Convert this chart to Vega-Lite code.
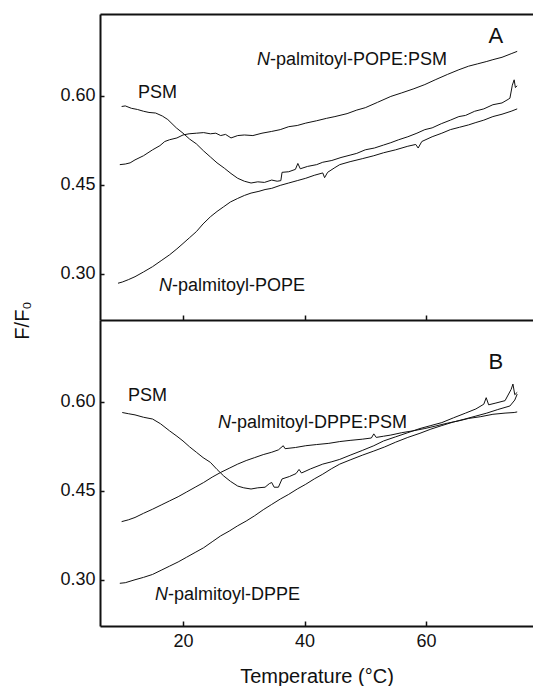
{
  "$schema": "https://vega.github.io/schema/vega-lite/v6.json",
  "padding": {"left": 12, "top": 14, "right": 0, "bottom": 0},
  "background": "white",
  "spacing": 0,
  "bounds": "flush",
  "config": {
    "font": "Liberation Sans",
    "view": {"stroke": null},
    "axis": {
      "domainColor": "#111", "domainWidth": 2, "tickColor": "#111", "tickWidth": 1.5,
      "labelFont": "Liberation Sans", "labelFontSize": 18, "labelColor": "#111",
      "titleFont": "Liberation Sans", "titleFontWeight": "normal", "titleColor": "#111", "grid": false
    }
  },
  "datasets": {
    "curves": [
      {"panel":"A","series":"PSM","t":9.9,"v":0.582},{"panel":"A","series":"PSM","t":10.5,"v":0.583},{"panel":"A","series":"PSM","t":11.5,"v":0.579},{"panel":"A","series":"PSM","t":12.5,"v":0.577},{"panel":"A","series":"PSM","t":13.5,"v":0.574},{"panel":"A","series":"PSM","t":14.4,"v":0.572},{"panel":"A","series":"PSM","t":15.5,"v":0.571},{"panel":"A","series":"PSM","t":16.6,"v":0.566},{"panel":"A","series":"PSM","t":17.5,"v":0.56},{"panel":"A","series":"PSM","t":18.9,"v":0.546},{"panel":"A","series":"PSM","t":20,"v":0.537},{"panel":"A","series":"PSM","t":21.1,"v":0.527},{"panel":"A","series":"PSM","t":22.2,"v":0.519},{"panel":"A","series":"PSM","t":23.4,"v":0.507},{"panel":"A","series":"PSM","t":24.5,"v":0.497},{"panel":"A","series":"PSM","t":25.6,"v":0.487},{"panel":"A","series":"PSM","t":26.8,"v":0.478},{"panel":"A","series":"PSM","t":27.9,"v":0.469},{"panel":"A","series":"PSM","t":29,"v":0.461},{"panel":"A","series":"PSM","t":30.1,"v":0.456},{"panel":"A","series":"PSM","t":31.2,"v":0.453},{"panel":"A","series":"PSM","t":32.3,"v":0.455},{"panel":"A","series":"PSM","t":33.4,"v":0.454},{"panel":"A","series":"PSM","t":34.6,"v":0.458},{"panel":"A","series":"PSM","t":35.5,"v":0.456},{"panel":"A","series":"PSM","t":36.1,"v":0.457},{"panel":"A","series":"PSM","t":36.3,"v":0.471},{"panel":"A","series":"PSM","t":37.4,"v":0.472},{"panel":"A","series":"PSM","t":38.5,"v":0.476},{"panel":"A","series":"PSM","t":38.9,"v":0.486},{"panel":"A","series":"PSM","t":39.3,"v":0.477},{"panel":"A","series":"PSM","t":40.5,"v":0.481},{"panel":"A","series":"PSM","t":42,"v":0.484},{"panel":"A","series":"PSM","t":43,"v":0.488},{"panel":"A","series":"PSM","t":44.5,"v":0.491},{"panel":"A","series":"PSM","t":46,"v":0.496},{"panel":"A","series":"PSM","t":47.5,"v":0.5},{"panel":"A","series":"PSM","t":48.6,"v":0.503},{"panel":"A","series":"PSM","t":50,"v":0.509},{"panel":"A","series":"PSM","t":51.5,"v":0.512},{"panel":"A","series":"PSM","t":53,"v":0.517},{"panel":"A","series":"PSM","t":54.2,"v":0.521},{"panel":"A","series":"PSM","t":55.5,"v":0.526},{"panel":"A","series":"PSM","t":57,"v":0.531},{"panel":"A","series":"PSM","t":58.5,"v":0.537},{"panel":"A","series":"PSM","t":59.8,"v":0.543},{"panel":"A","series":"PSM","t":61,"v":0.546},{"panel":"A","series":"PSM","t":62.5,"v":0.553},{"panel":"A","series":"PSM","t":64,"v":0.559},{"panel":"A","series":"PSM","t":65.4,"v":0.565},{"panel":"A","series":"PSM","t":66.5,"v":0.567},{"panel":"A","series":"PSM","t":68,"v":0.574},{"panel":"A","series":"PSM","t":69.5,"v":0.578},{"panel":"A","series":"PSM","t":71,"v":0.585},{"panel":"A","series":"PSM","t":72.5,"v":0.588},{"panel":"A","series":"PSM","t":73.5,"v":0.594},{"panel":"A","series":"PSM","t":73.8,"v":0.596},{"panel":"A","series":"PSM","t":74.2,"v":0.618},{"panel":"A","series":"PSM","t":74.5,"v":0.627},{"panel":"A","series":"PSM","t":74.7,"v":0.614},{"panel":"A","series":"PSM","t":75,"v":0.617},
      {"panel":"A","series":"POPE","t":9.3,"v":0.284},{"panel":"A","series":"POPE","t":10,"v":0.286},{"panel":"A","series":"POPE","t":11,"v":0.29},{"panel":"A","series":"POPE","t":12.1,"v":0.295},{"panel":"A","series":"POPE","t":13.5,"v":0.303},{"panel":"A","series":"POPE","t":15,"v":0.312},{"panel":"A","series":"POPE","t":16.4,"v":0.322},{"panel":"A","series":"POPE","t":17.8,"v":0.332},{"panel":"A","series":"POPE","t":19,"v":0.342},{"panel":"A","series":"POPE","t":20,"v":0.351},{"panel":"A","series":"POPE","t":21.1,"v":0.361},{"panel":"A","series":"POPE","t":22.2,"v":0.371},{"panel":"A","series":"POPE","t":23.3,"v":0.384},{"panel":"A","series":"POPE","t":24.5,"v":0.396},{"panel":"A","series":"POPE","t":25.6,"v":0.405},{"panel":"A","series":"POPE","t":26.7,"v":0.413},{"panel":"A","series":"POPE","t":27.8,"v":0.421},{"panel":"A","series":"POPE","t":29,"v":0.427},{"panel":"A","series":"POPE","t":30.1,"v":0.432},{"panel":"A","series":"POPE","t":31.2,"v":0.436},{"panel":"A","series":"POPE","t":32.5,"v":0.439},{"panel":"A","series":"POPE","t":33.5,"v":0.442},{"panel":"A","series":"POPE","t":34.6,"v":0.444},{"panel":"A","series":"POPE","t":36,"v":0.449},{"panel":"A","series":"POPE","t":37.4,"v":0.453},{"panel":"A","series":"POPE","t":38.8,"v":0.457},{"panel":"A","series":"POPE","t":40.2,"v":0.461},{"panel":"A","series":"POPE","t":41.6,"v":0.466},{"panel":"A","series":"POPE","t":43,"v":0.47},{"panel":"A","series":"POPE","t":43.3,"v":0.462},{"panel":"A","series":"POPE","t":43.8,"v":0.471},{"panel":"A","series":"POPE","t":45,"v":0.479},{"panel":"A","series":"POPE","t":45.8,"v":0.484},{"panel":"A","series":"POPE","t":47.5,"v":0.489},{"panel":"A","series":"POPE","t":49.5,"v":0.494},{"panel":"A","series":"POPE","t":51.4,"v":0.499},{"panel":"A","series":"POPE","t":53,"v":0.504},{"panel":"A","series":"POPE","t":55,"v":0.509},{"panel":"A","series":"POPE","t":57,"v":0.515},{"panel":"A","series":"POPE","t":58.3,"v":0.518},{"panel":"A","series":"POPE","t":58.7,"v":0.512},{"panel":"A","series":"POPE","t":59.3,"v":0.523},{"panel":"A","series":"POPE","t":61,"v":0.531},{"panel":"A","series":"POPE","t":62.6,"v":0.537},{"panel":"A","series":"POPE","t":64,"v":0.543},{"panel":"A","series":"POPE","t":65.5,"v":0.547},{"panel":"A","series":"POPE","t":67,"v":0.551},{"panel":"A","series":"POPE","t":68.2,"v":0.555},{"panel":"A","series":"POPE","t":69.5,"v":0.559},{"panel":"A","series":"POPE","t":71,"v":0.565},{"panel":"A","series":"POPE","t":72.5,"v":0.569},{"panel":"A","series":"POPE","t":74,"v":0.574},{"panel":"A","series":"POPE","t":75,"v":0.578},
      {"panel":"A","series":"MIX","t":9.6,"v":0.484},{"panel":"A","series":"MIX","t":10.5,"v":0.485},{"panel":"A","series":"MIX","t":11.3,"v":0.487},{"panel":"A","series":"MIX","t":12.1,"v":0.492},{"panel":"A","series":"MIX","t":13.5,"v":0.499},{"panel":"A","series":"MIX","t":15,"v":0.509},{"panel":"A","series":"MIX","t":16.2,"v":0.516},{"panel":"A","series":"MIX","t":17,"v":0.523},{"panel":"A","series":"MIX","t":17.8,"v":0.526},{"panel":"A","series":"MIX","t":19,"v":0.529},{"panel":"A","series":"MIX","t":20,"v":0.534},{"panel":"A","series":"MIX","t":21,"v":0.536},{"panel":"A","series":"MIX","t":22.2,"v":0.537},{"panel":"A","series":"MIX","t":23.4,"v":0.538},{"panel":"A","series":"MIX","t":24.5,"v":0.536},{"panel":"A","series":"MIX","t":25.4,"v":0.537},{"panel":"A","series":"MIX","t":26.2,"v":0.533},{"panel":"A","series":"MIX","t":27,"v":0.535},{"panel":"A","series":"MIX","t":27.9,"v":0.529},{"panel":"A","series":"MIX","t":29,"v":0.533},{"panel":"A","series":"MIX","t":30.1,"v":0.534},{"panel":"A","series":"MIX","t":31.5,"v":0.533},{"panel":"A","series":"MIX","t":33,"v":0.537},{"panel":"A","series":"MIX","t":34.6,"v":0.54},{"panel":"A","series":"MIX","t":36,"v":0.543},{"panel":"A","series":"MIX","t":37.4,"v":0.548},{"panel":"A","series":"MIX","t":38.8,"v":0.55},{"panel":"A","series":"MIX","t":40.2,"v":0.554},{"panel":"A","series":"MIX","t":42,"v":0.558},{"panel":"A","series":"MIX","t":43.6,"v":0.562},{"panel":"A","series":"MIX","t":45,"v":0.565},{"panel":"A","series":"MIX","t":47,"v":0.57},{"panel":"A","series":"MIX","t":48.6,"v":0.576},{"panel":"A","series":"MIX","t":50,"v":0.58},{"panel":"A","series":"MIX","t":52,"v":0.589},{"panel":"A","series":"MIX","t":54.2,"v":0.599},{"panel":"A","series":"MIX","t":56,"v":0.605},{"panel":"A","series":"MIX","t":58,"v":0.612},{"panel":"A","series":"MIX","t":59.8,"v":0.619},{"panel":"A","series":"MIX","t":61.5,"v":0.627},{"panel":"A","series":"MIX","t":63.5,"v":0.636},{"panel":"A","series":"MIX","t":65.4,"v":0.644},{"panel":"A","series":"MIX","t":67,"v":0.65},{"panel":"A","series":"MIX","t":68.5,"v":0.654},{"panel":"A","series":"MIX","t":70,"v":0.658},{"panel":"A","series":"MIX","t":71,"v":0.661},{"panel":"A","series":"MIX","t":72.5,"v":0.665},{"panel":"A","series":"MIX","t":74,"v":0.671},{"panel":"A","series":"MIX","t":75,"v":0.675},
      {"panel":"B","series":"PSM","t":10,"v":0.582},{"panel":"B","series":"PSM","t":11,"v":0.58},{"panel":"B","series":"PSM","t":12.1,"v":0.578},{"panel":"B","series":"PSM","t":13.5,"v":0.574},{"panel":"B","series":"PSM","t":15,"v":0.571},{"panel":"B","series":"PSM","t":16.3,"v":0.563},{"panel":"B","series":"PSM","t":17.8,"v":0.551},{"panel":"B","series":"PSM","t":19,"v":0.542},{"panel":"B","series":"PSM","t":20,"v":0.534},{"panel":"B","series":"PSM","t":21.1,"v":0.524},{"panel":"B","series":"PSM","t":22.2,"v":0.515},{"panel":"B","series":"PSM","t":23.3,"v":0.506},{"panel":"B","series":"PSM","t":24.5,"v":0.498},{"panel":"B","series":"PSM","t":25.6,"v":0.486},{"panel":"B","series":"PSM","t":26.7,"v":0.475},{"panel":"B","series":"PSM","t":27.8,"v":0.466},{"panel":"B","series":"PSM","t":29,"v":0.458},{"panel":"B","series":"PSM","t":30,"v":0.455},{"panel":"B","series":"PSM","t":31.2,"v":0.453},{"panel":"B","series":"PSM","t":32.3,"v":0.455},{"panel":"B","series":"PSM","t":33.5,"v":0.456},{"panel":"B","series":"PSM","t":34.2,"v":0.462},{"panel":"B","series":"PSM","t":34.6,"v":0.464},{"panel":"B","series":"PSM","t":35,"v":0.456},{"panel":"B","series":"PSM","t":35.7,"v":0.456},{"panel":"B","series":"PSM","t":36.3,"v":0.47},{"panel":"B","series":"PSM","t":37.5,"v":0.474},{"panel":"B","series":"PSM","t":38.6,"v":0.479},{"panel":"B","series":"PSM","t":39.1,"v":0.486},{"panel":"B","series":"PSM","t":39.5,"v":0.48},{"panel":"B","series":"PSM","t":41,"v":0.487},{"panel":"B","series":"PSM","t":43,"v":0.495},{"panel":"B","series":"PSM","t":44.5,"v":0.499},{"panel":"B","series":"PSM","t":45.8,"v":0.503},{"panel":"B","series":"PSM","t":47.5,"v":0.51},{"panel":"B","series":"PSM","t":49.5,"v":0.518},{"panel":"B","series":"PSM","t":51.4,"v":0.526},{"panel":"B","series":"PSM","t":53,"v":0.534},{"panel":"B","series":"PSM","t":55,"v":0.541},{"panel":"B","series":"PSM","t":57,"v":0.548},{"panel":"B","series":"PSM","t":59,"v":0.555},{"panel":"B","series":"PSM","t":60.8,"v":0.56},{"panel":"B","series":"PSM","t":62.6,"v":0.565},{"panel":"B","series":"PSM","t":64.5,"v":0.573},{"panel":"B","series":"PSM","t":66.5,"v":0.581},{"panel":"B","series":"PSM","t":68.2,"v":0.588},{"panel":"B","series":"PSM","t":69.5,"v":0.596},{"panel":"B","series":"PSM","t":69.9,"v":0.607},{"panel":"B","series":"PSM","t":70.3,"v":0.595},{"panel":"B","series":"PSM","t":71.5,"v":0.598},{"panel":"B","series":"PSM","t":73,"v":0.602},{"panel":"B","series":"PSM","t":74,"v":0.621},{"panel":"B","series":"PSM","t":74.3,"v":0.63},{"panel":"B","series":"PSM","t":74.6,"v":0.612},{"panel":"B","series":"PSM","t":75,"v":0.616},
      {"panel":"B","series":"MIX","t":9.9,"v":0.398},{"panel":"B","series":"MIX","t":11,"v":0.401},{"panel":"B","series":"MIX","t":12.1,"v":0.405},{"panel":"B","series":"MIX","t":13.5,"v":0.412},{"panel":"B","series":"MIX","t":15,"v":0.419},{"panel":"B","series":"MIX","t":16.4,"v":0.426},{"panel":"B","series":"MIX","t":17.8,"v":0.433},{"panel":"B","series":"MIX","t":19.2,"v":0.44},{"panel":"B","series":"MIX","t":20.6,"v":0.448},{"panel":"B","series":"MIX","t":22,"v":0.456},{"panel":"B","series":"MIX","t":23.4,"v":0.464},{"panel":"B","series":"MIX","t":24.8,"v":0.473},{"panel":"B","series":"MIX","t":26.2,"v":0.481},{"panel":"B","series":"MIX","t":27.6,"v":0.488},{"panel":"B","series":"MIX","t":29,"v":0.495},{"panel":"B","series":"MIX","t":30.4,"v":0.501},{"panel":"B","series":"MIX","t":31.8,"v":0.506},{"panel":"B","series":"MIX","t":33.2,"v":0.511},{"panel":"B","series":"MIX","t":34.6,"v":0.515},{"panel":"B","series":"MIX","t":35.7,"v":0.519},{"panel":"B","series":"MIX","t":36.5,"v":0.526},{"panel":"B","series":"MIX","t":36.8,"v":0.521},{"panel":"B","series":"MIX","t":38.5,"v":0.523},{"panel":"B","series":"MIX","t":40.2,"v":0.526},{"panel":"B","series":"MIX","t":42,"v":0.528},{"panel":"B","series":"MIX","t":44,"v":0.53},{"panel":"B","series":"MIX","t":45.8,"v":0.533},{"panel":"B","series":"MIX","t":47.5,"v":0.535},{"panel":"B","series":"MIX","t":49.5,"v":0.537},{"panel":"B","series":"MIX","t":51,"v":0.539},{"panel":"B","series":"MIX","t":51.4,"v":0.546},{"panel":"B","series":"MIX","t":51.8,"v":0.54},{"panel":"B","series":"MIX","t":53,"v":0.542},{"panel":"B","series":"MIX","t":54.2,"v":0.544},{"panel":"B","series":"MIX","t":56,"v":0.548},{"panel":"B","series":"MIX","t":57.8,"v":0.551},{"panel":"B","series":"MIX","t":59.8,"v":0.555},{"panel":"B","series":"MIX","t":61.5,"v":0.559},{"panel":"B","series":"MIX","t":63.5,"v":0.564},{"panel":"B","series":"MIX","t":65.4,"v":0.568},{"panel":"B","series":"MIX","t":67,"v":0.572},{"panel":"B","series":"MIX","t":69,"v":0.575},{"panel":"B","series":"MIX","t":71,"v":0.579},{"panel":"B","series":"MIX","t":73,"v":0.581},{"panel":"B","series":"MIX","t":74.5,"v":0.582},{"panel":"B","series":"MIX","t":75,"v":0.583},
      {"panel":"B","series":"DPPE","t":9.6,"v":0.294},{"panel":"B","series":"DPPE","t":10.5,"v":0.295},{"panel":"B","series":"DPPE","t":12.1,"v":0.3},{"panel":"B","series":"DPPE","t":13.5,"v":0.304},{"panel":"B","series":"DPPE","t":15,"v":0.309},{"panel":"B","series":"DPPE","t":16.4,"v":0.316},{"panel":"B","series":"DPPE","t":17.8,"v":0.323},{"panel":"B","series":"DPPE","t":19.2,"v":0.33},{"panel":"B","series":"DPPE","t":20.6,"v":0.338},{"panel":"B","series":"DPPE","t":22,"v":0.346},{"panel":"B","series":"DPPE","t":23.4,"v":0.354},{"panel":"B","series":"DPPE","t":24.8,"v":0.364},{"panel":"B","series":"DPPE","t":26.2,"v":0.374},{"panel":"B","series":"DPPE","t":27.6,"v":0.382},{"panel":"B","series":"DPPE","t":29,"v":0.391},{"panel":"B","series":"DPPE","t":30.4,"v":0.399},{"panel":"B","series":"DPPE","t":31.8,"v":0.408},{"panel":"B","series":"DPPE","t":33.2,"v":0.418},{"panel":"B","series":"DPPE","t":34.6,"v":0.427},{"panel":"B","series":"DPPE","t":36,"v":0.436},{"panel":"B","series":"DPPE","t":37.4,"v":0.444},{"panel":"B","series":"DPPE","t":38.8,"v":0.453},{"panel":"B","series":"DPPE","t":40.2,"v":0.461},{"panel":"B","series":"DPPE","t":41.6,"v":0.47},{"panel":"B","series":"DPPE","t":43,"v":0.478},{"panel":"B","series":"DPPE","t":44.4,"v":0.487},{"panel":"B","series":"DPPE","t":45.8,"v":0.495},{"panel":"B","series":"DPPE","t":47.5,"v":0.502},{"panel":"B","series":"DPPE","t":49.5,"v":0.51},{"panel":"B","series":"DPPE","t":51.4,"v":0.517},{"panel":"B","series":"DPPE","t":53.2,"v":0.524},{"panel":"B","series":"DPPE","t":55,"v":0.532},{"panel":"B","series":"DPPE","t":57,"v":0.54},{"panel":"B","series":"DPPE","t":59,"v":0.547},{"panel":"B","series":"DPPE","t":60.8,"v":0.554},{"panel":"B","series":"DPPE","t":62.6,"v":0.56},{"panel":"B","series":"DPPE","t":64.5,"v":0.566},{"panel":"B","series":"DPPE","t":66.4,"v":0.571},{"panel":"B","series":"DPPE","t":68.2,"v":0.576},{"panel":"B","series":"DPPE","t":70,"v":0.581},{"panel":"B","series":"DPPE","t":71.8,"v":0.587},{"panel":"B","series":"DPPE","t":73.8,"v":0.593},{"panel":"B","series":"DPPE","t":74.6,"v":0.603},{"panel":"B","series":"DPPE","t":75,"v":0.613}
    ],
    "labels": [
      {"panel":"A","pre":"N","rest":"-palmitoyl-POPE:PSM","t":34.31,"v":0.6604},
      {"panel":"A","pre":"","rest":"PSM","t":12.59,"v":0.6048},
      {"panel":"A","pre":"N","rest":"-palmitoyl-POPE","t":18.19,"v":0.2793},
      {"panel":"B","pre":"","rest":"PSM","t":10.94,"v":0.6098},
      {"panel":"B","pre":"N","rest":"-palmitoyl-DPPE:PSM","t":27.9,"v":0.5643},
      {"panel":"B","pre":"N","rest":"-palmitoyl-DPPE","t":17.53,"v":0.2743}
    ],
    "letters": [
      {"panel":"A","txt":"A","t":71.5,"v":0.7009},
      {"panel":"B","txt":"B","t":71.5,"v":0.6672}
    ]
  },
  "vconcat": [
    {
      "width": 433, "height": 306,
      "resolve": {"axis": {"x": "independent"}},
      "layer": [
        {
          "data": {"name": "curves"},
          "transform": [{"filter": "datum.panel == 'A'"}],
          "mark": {"type": "line", "color": "#111", "strokeWidth": 1},
          "encoding": {
            "x": {"field": "t", "type": "quantitative", "scale": {"domain": [6.34, 77.6], "nice": false, "zero": false},
                  "axis": {"orient": "bottom", "values": [20, 40, 60], "labels": false, "tickSize": -5, "title": null}},
            "y": {"field": "v", "type": "quantitative", "scale": {"domain": [0.222, 0.738], "nice": false, "zero": false},
                  "axis": {"values": [0.3, 0.45, 0.6], "format": ".2f", "tickSize": -4, "labelPadding": 9, "title": null}},
            "detail": {"field": "series"}
          }
        },
        {
          "data": {"name": "labels"},
          "transform": [{"filter": "datum.panel == 'A'"}],
          "mark": {"type": "text", "align": "right", "baseline": "middle", "fontSize": 18, "fontStyle": "italic", "color": "#111"},
          "encoding": {
            "x": {"field": "t", "type": "quantitative", "axis": {"orient": "top", "ticks": false, "labels": false, "title": null}},
            "y": {"field": "v", "type": "quantitative", "axis": {"values": [0.3, 0.45, 0.6], "format": ".2f", "tickSize": -4, "labelPadding": 9, "title": null}},
            "text": {"field": "pre"}
          }
        },
        {
          "data": {"name": "labels"},
          "transform": [{"filter": "datum.panel == 'A'"}],
          "mark": {"type": "text", "align": "left", "baseline": "middle", "fontSize": 18, "color": "#111"},
          "encoding": {
            "x": {"field": "t", "type": "quantitative", "axis": null},
            "y": {"field": "v", "type": "quantitative", "axis": {"values": [0.3, 0.45, 0.6], "format": ".2f", "tickSize": -4, "labelPadding": 9, "title": null}},
            "text": {"field": "rest"}
          }
        },
        {
          "data": {"name": "letters"},
          "transform": [{"filter": "datum.panel == 'A'"}],
          "mark": {"type": "text", "align": "center", "baseline": "middle", "fontSize": 22, "color": "#111"},
          "encoding": {
            "x": {"field": "t", "type": "quantitative", "axis": null},
            "y": {"field": "v", "type": "quantitative", "axis": {"values": [0.3, 0.45, 0.6], "format": ".2f", "tickSize": -4, "labelPadding": 9, "title": null}},
            "text": {"field": "txt"}
          }
        }
      ]
    },
    {
      "width": 433, "height": 306,
      "encoding": {
        "x": {"field": "t", "type": "quantitative", "scale": {"domain": [6.34, 77.6], "nice": false, "zero": false},
              "axis": {"orient": "bottom", "values": [20, 40, 60], "tickSize": -5, "labelPadding": 11, "title": "Temperature (°C)", "titleFontSize": 20, "titlePadding": 16}},
        "y": {"field": "v", "type": "quantitative", "scale": {"domain": [0.222, 0.738], "nice": false, "zero": false},
              "axis": {"values": [0.3, 0.45, 0.6], "format": ".2f", "tickSize": -4, "labelPadding": 9, "title": "F/F₀", "titleFontSize": 20, "titleX": -78, "titleY": 0, "titleAngle": -90, "titleAlign": "center", "titleBaseline": "middle"}}
      },
      "layer": [
        {
          "data": {"name": "curves"},
          "transform": [{"filter": "datum.panel == 'B'"}],
          "mark": {"type": "line", "color": "#111", "strokeWidth": 1},
          "encoding": {"detail": {"field": "series"}}
        },
        {
          "data": {"name": "labels"},
          "transform": [{"filter": "datum.panel == 'B'"}],
          "mark": {"type": "text", "align": "right", "baseline": "middle", "fontSize": 18, "fontStyle": "italic", "color": "#111"},
          "encoding": {"text": {"field": "pre"}}
        },
        {
          "data": {"name": "labels"},
          "transform": [{"filter": "datum.panel == 'B'"}],
          "mark": {"type": "text", "align": "left", "baseline": "middle", "fontSize": 18, "color": "#111"},
          "encoding": {"text": {"field": "rest"}}
        },
        {
          "data": {"name": "letters"},
          "transform": [{"filter": "datum.panel == 'B'"}],
          "mark": {"type": "text", "align": "center", "baseline": "middle", "fontSize": 22, "color": "#111"},
          "encoding": {"text": {"field": "txt"}}
        }
      ]
    }
  ]
}
